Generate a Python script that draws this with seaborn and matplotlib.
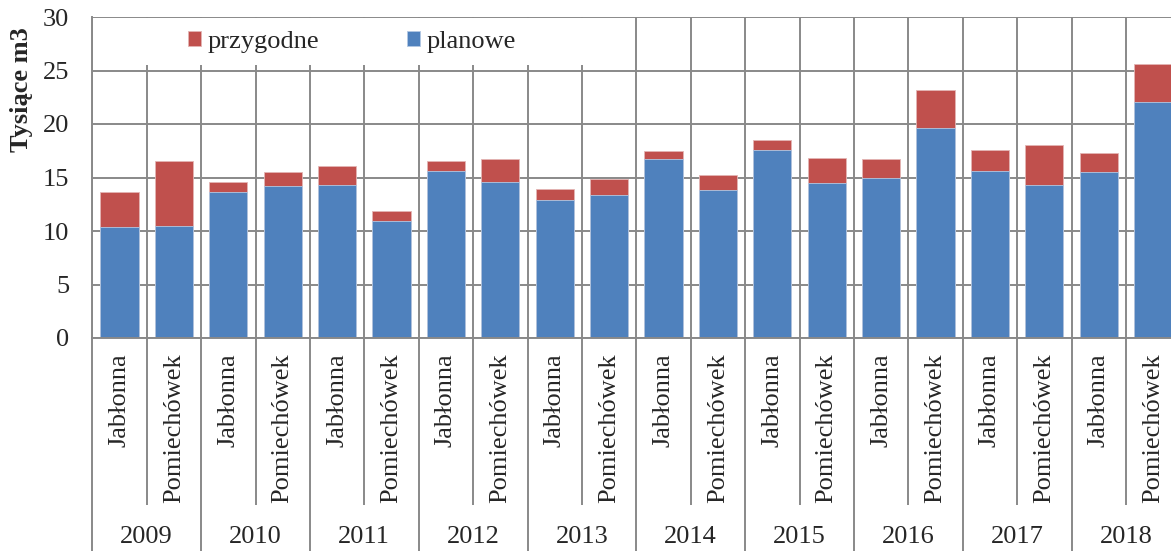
import matplotlib
matplotlib.use("Agg")
import matplotlib.pyplot as plt
from matplotlib.patches import Rectangle
import seaborn as sns
import pandas as pd
import numpy as np

years = ['2009', '2010', '2011', '2012', '2013', '2014', '2015', '2016', '2017', '2018']
sites = ['Jabłonna', 'Pomiechówek']

# values in thousands m3 (Jabłonna, Pomiechówek per year)
planowe = [10.4, 10.5, 13.6, 14.2, 14.3, 10.9, 15.65, 14.6, 12.9, 13.4,
           16.7, 13.8, 17.6, 14.45, 15.0, 19.6, 15.65, 14.3, 15.55, 22.1]
przygodne = [3.2, 6.0, 1.0, 1.3, 1.8, 0.95, 0.85, 2.1, 1.0, 1.5,
             0.75, 1.4, 0.9, 2.35, 1.7, 3.6, 1.95, 3.7, 1.75, 3.5]

blue = '#4F81BD'
red = '#C0504D'
grid_c = '#898989'

sns.set_style('white')
plt.rcParams['font.family'] = ['Liberation Serif', 'DejaVu Serif']
plt.rcParams['font.size'] = 19

df = pd.DataFrame({
    'year': np.repeat(years, len(sites)),
    'site': sites * len(years),
    'planowe': planowe,
    'przygodne': przygodne,
})
df['key'] = df['year'] + ' ' + df['site']
df['total'] = df['planowe'] + df['przygodne']

fig = plt.figure(figsize=(11.71, 5.51), dpi=100)
ax = fig.add_axes([92.3 / 1171, (551 - 338) / 551, 1088 / 1171, 321 / 551])

sns.barplot(data=df, x='key', y='total', color=red, width=0.7, errorbar=None,
            saturation=1, edgecolor='#e3b5b4', linewidth=0.6, ax=ax, label='przygodne')
sns.barplot(data=df, x='key', y='planowe', color=blue, width=0.7, errorbar=None,
            saturation=1, edgecolor='#b3c8e3', linewidth=0.6, ax=ax, label='planowe')

ax.set_ylim(0, 30)
ax.set_yticks(range(0, 31, 5))
ax.set_xlim(-0.5, len(df) - 0.5)
ax.set_xlabel('')
ax.set_ylabel('')
ax.set_xticks(range(len(df)))
ax.set_xticklabels(df['site'], rotation=90, va='top', ha='center')

ax.set_axisbelow(True)
ax.grid(axis='y', color=grid_c, linewidth=1.4)
ax.set_xticks(np.arange(-0.5, len(df), 1), minor=True)
ax.grid(axis='x', which='minor', color=grid_c, linewidth=1.4)
ax.grid(axis='x', which='major', visible=False)

for s in ['top', 'right']:
    ax.spines[s].set_visible(False)
for s in ['left', 'bottom']:
    ax.spines[s].set_color(grid_c)
    ax.spines[s].set_linewidth(1.4)

ax.tick_params(axis='y', length=6.5, width=1.4, color=grid_c, pad=10, labelsize=19)
ax.tick_params(axis='x', which='both', length=0, pad=10.8, labelsize=19)

# multi-level category axis separators below the plot
trans = ax.get_xaxis_transform()
bounds = np.arange(-0.5, len(df), 1)
inner = bounds[1::2]
outer = bounds[0::2]
ax.vlines(inner, -0.52, 0, transform=trans, color=grid_c, linewidth=1.4, clip_on=False)
ax.vlines(outer, -0.75, 0, transform=trans, color=grid_c, linewidth=1.4, clip_on=False)
for i, y in enumerate(years):
    ax.text(2 * i + 0.5, -0.62, y, transform=trans, ha='center', va='center', fontsize=19)

ax.text(-0.0655, 0.773, 'Tysiące m3', transform=ax.transAxes, rotation=90,
        ha='center', va='center', fontsize=19, fontweight='bold')

# white legend background over the grid
ax.add_patch(Rectangle((0.007, 0.850), 0.473, 0.146, transform=ax.transAxes,
                       facecolor='white', edgecolor='none', zorder=0.8))
handles, labels = ax.get_legend_handles_labels()
ax.legend(handles, labels, loc='center left', bbox_to_anchor=(0.076, 0.922),
          ncol=2, frameon=False, borderpad=0, handlelength=0.5, handleheight=0.5,
          handletextpad=0.25, columnspacing=3.3, fontsize=19)

fig.savefig('out.png', dpi=100)
